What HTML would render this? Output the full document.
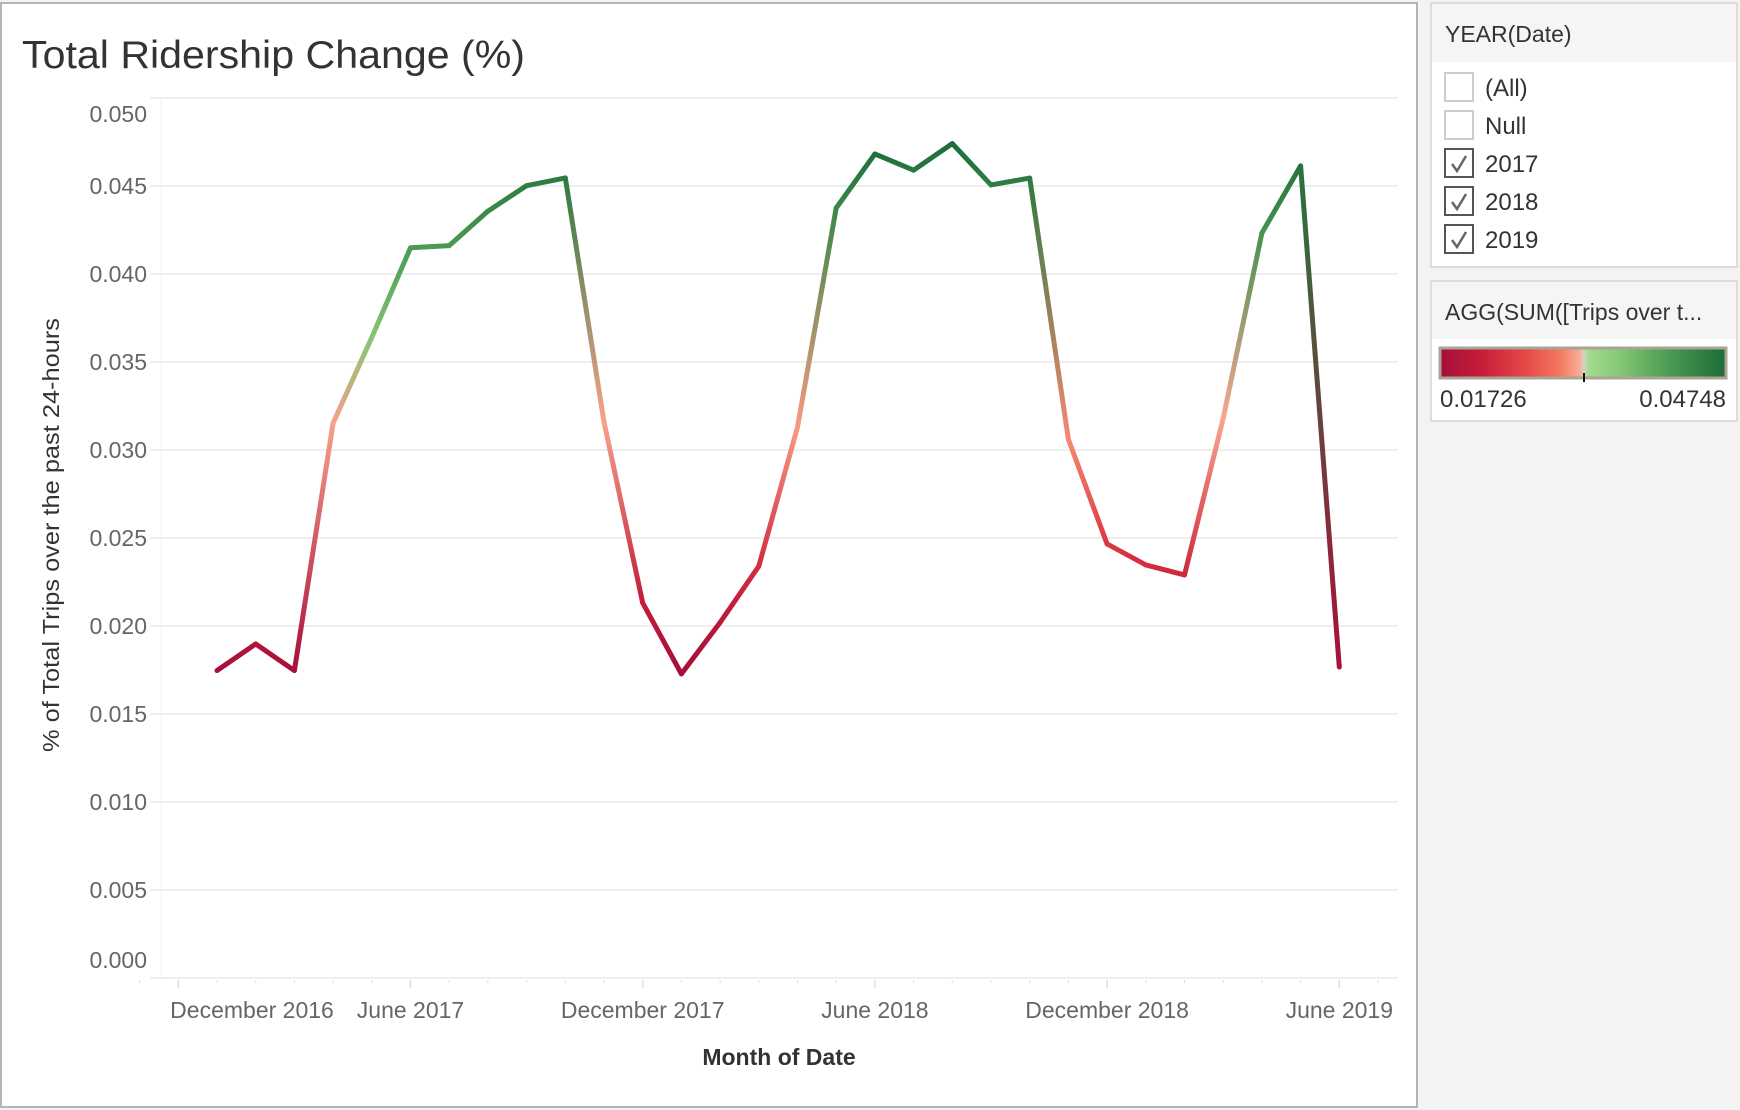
<!DOCTYPE html>
<html><head><meta charset="utf-8"><style>
html,body{margin:0;padding:0;background:#f3f3f3;}
svg{display:block;font-family:"Liberation Sans",sans-serif;}
</style></head><body>
<svg id="chart" width="1740" height="1110" viewBox="0 0 1740 1110">
<defs id="defs">
<linearGradient id="cbar" x1="0" x2="1" y1="0" y2="0">
<stop offset="0" stop-color="#a50f3a"/><stop offset="0.15" stop-color="#c71e3a"/><stop offset="0.3" stop-color="#e54848"/>
<stop offset="0.42" stop-color="#f4785f"/><stop offset="0.49" stop-color="#f8ae98"/><stop offset="0.503" stop-color="#d6d4c0"/>
<stop offset="0.52" stop-color="#a3da8e"/><stop offset="0.62" stop-color="#88ca78"/><stop offset="0.8" stop-color="#4c9a52"/><stop offset="1" stop-color="#1d6b38"/>
</linearGradient>
</defs>
<rect x="0" y="0" width="1740" height="1110" fill="#f3f3f3"/>
<rect x="1" y="3" width="1416" height="1104" fill="#fff" stroke="#b4b4b4" stroke-width="2"/>
<text x="22" y="68" font-size="39" fill="#333" textLength="503" lengthAdjust="spacingAndGlyphs">Total Ridership Change (%)</text>
<g id="grid"></g>
<g id="yticks"></g>
<g id="xticks"></g>
<g id="line"></g>
<text transform="translate(59,535) rotate(-90)" text-anchor="middle" font-size="23" fill="#333" textLength="434" lengthAdjust="spacingAndGlyphs">% of Total Trips over the past 24-hours</text>
<text x="779" y="1065" text-anchor="middle" font-size="23" font-weight="bold" fill="#333">Month of Date</text>

<g>
<rect x="1431" y="3" width="306" height="264" fill="#fff" stroke="#dcdcdc" stroke-width="2"/>
<rect x="1432" y="4" width="304" height="58" fill="#f5f5f5"/>
<text x="1445" y="42" font-size="23" fill="#333">YEAR(Date)</text>
</g>
<g id="filters"></g>

<g>
<rect x="1431" y="281" width="306" height="140" fill="#fff" stroke="#dcdcdc" stroke-width="2"/>
<rect x="1432" y="282" width="304" height="57" fill="#f5f5f5"/>
<text x="1445" y="320" font-size="23" fill="#333">AGG(SUM([Trips over t...</text>
<rect x="1440" y="348" width="286" height="30" fill="url(#cbar)" stroke="#a8a596" stroke-width="3"/>
<line x1="1584" y1="373" x2="1584" y2="382" stroke="#111" stroke-width="2"/>
<text x="1440" y="407" font-size="24" fill="#333">0.01726</text>
<text x="1726" y="407" font-size="24" fill="#333" text-anchor="end">0.04748</text>
</g>
</svg>
<script>
const months = ["Jan 2017","Feb 2017","Mar 2017","Apr 2017","May 2017","Jun 2017","Jul 2017","Aug 2017","Sep 2017","Oct 2017","Nov 2017","Dec 2017",
"Jan 2018","Feb 2018","Mar 2018","Apr 2018","May 2018","Jun 2018","Jul 2018","Aug 2018","Sep 2018","Oct 2018","Nov 2018","Dec 2018",
"Jan 2019","Feb 2019","Mar 2019","Apr 2019","May 2019","Jun 2019"];
const values = [0.01747,0.01898,0.01747,0.03153,0.0364,0.04149,0.04161,0.04357,0.04502,0.04546,0.03159,0.02131,
0.01728,0.0202,0.0234,0.0313,0.04375,0.04682,0.0459,0.04741,0.04506,0.04545,0.0306,0.02466,
0.02347,0.0229,0.0318,0.04233,0.04614,0.01767];
const yTicks = [0,0.005,0.01,0.015,0.02,0.025,0.03,0.035,0.04,0.045,0.05];
const yTickLabels = ["0.000","0.005","0.010","0.015","0.020","0.025","0.030","0.035","0.040","0.045","0.050"];
const xLabelMonths = [-1,5,11,17,23,29];
const xLabels = ["December 2016","June 2017","December 2017","June 2018","December 2018","June 2019"];
const colorMin = 0.01726, colorMax = 0.04748;
const filterItems = ["(All)","Null","2017","2018","2019"];
const filterChecked = [false,false,true,true,true];

const NS="http://www.w3.org/2000/svg";
function mk(tag,attrs,parent){const e=document.createElementNS(NS,tag);for(const k in attrs)e.setAttribute(k,attrs[k]);parent.appendChild(e);return e;}
const x = i => 217 + i*38.7;
const y = v => 978 - v/0.05*880;

const grid=document.getElementById('grid');
const yt=document.getElementById('yticks');
yTicks.forEach((v,i)=>{
  const gl=mk('line',{x1:150,x2:1398,y1:y(v),y2:y(v),stroke:"#efefef","stroke-width":2},grid);
  
  
  let ty=y(v)+8; if(i===0) ty=y(v)-10; if(i===yTicks.length-1) ty=y(v)+24;
  const t=mk('text',{x:147,y:ty,"text-anchor":"end","font-size":23,fill:"#666"},yt);
  t.textContent=yTickLabels[i];
  
  
});
mk('line',{x1:161,x2:161,y1:98,y2:978,stroke:"#f2f2f2","stroke-width":1},grid);
const xt=document.getElementById('xticks');
for(let i=-2;i<=30;i++){
  const major=xLabelMonths.indexOf(i)>=0;
  mk('line',{x1:x(i),x2:x(i),y1:980,y2:major?988:983,stroke:"#ddd","stroke-width":major?1.5:1},xt);
}
xLabelMonths.forEach((m,i)=>{
  let cx=x(m); if(i===0) cx=252;
  const t=mk('text',{x:cx,y:1018,"text-anchor":"middle","font-size":23,fill:"#666"},xt);
  t.textContent=xLabels[i];
  
  
});

const stops=[[0,"#a50f3a"],[0.15,"#c71e3a"],[0.3,"#e54848"],[0.42,"#f4785f"],[0.49,"#f8ae98"],[0.503,"#d6d4c0"],[0.52,"#a3da8e"],[0.62,"#88ca78"],[0.8,"#4c9a52"],[1,"#1d6b38"]];
function hex(h){return [1,3,5].map(k=>parseInt(h.substr(k,2),16));}
function col(v){
  let t=Math.max(0,Math.min(1,(v-colorMin)/(colorMax-colorMin)));
  for(let k=1;k<stops.length;k++){ if(t<=stops[k][0]){const a=stops[k-1],b=stops[k];const f=(t-a[0])/(b[0]-a[0]);const A=hex(a[1]),B=hex(b[1]);return "rgb("+A.map((c,j)=>Math.round(c+(B[j]-c)*f)).join(",")+")";}}
  return stops[stops.length-1][1];
}
const defs=document.getElementById('defs');
const lg=document.getElementById('line');


for(let i=0;i<values.length-1;i++){
  const x1=x(i),y1=y(values[i]),x2=x(i+1),y2=y(values[i+1]);
  const g=mk('linearGradient',{id:"g"+i,gradientUnits:"userSpaceOnUse",x1:x1,y1:y1,x2:x2,y2:y2},defs);
  mk('stop',{offset:0,"stop-color":col(values[i])},g);
  mk('stop',{offset:1,"stop-color":col(values[i+1])},g);
  const seg=mk('line',{x1:x1,y1:y1,x2:x2,y2:y2,stroke:"url(#g"+i+")","stroke-width":5,"stroke-linecap":"round"},lg);
  
  
}

const fl=document.getElementById('filters');
filterItems.forEach((lab,i)=>{
  const yy=73+i*38;
  const g=mk('g',{},fl);
  
  
  mk('rect',{x:1445,y:yy,width:28,height:28,fill:"#fff",stroke:filterChecked[i]?"#555":"#ccc","stroke-width":2},g);
  if(filterChecked[i]) mk('path',{d:`M1452 ${yy+15} L1457 ${yy+22} L1466 ${yy+7}`,fill:"none",stroke:"#666","stroke-width":2.5},g);
  const t=mk('text',{x:1485,y:yy+23,"font-size":24,fill:"#333"},g);
  t.textContent=lab;
});
</script>
</body></html>
